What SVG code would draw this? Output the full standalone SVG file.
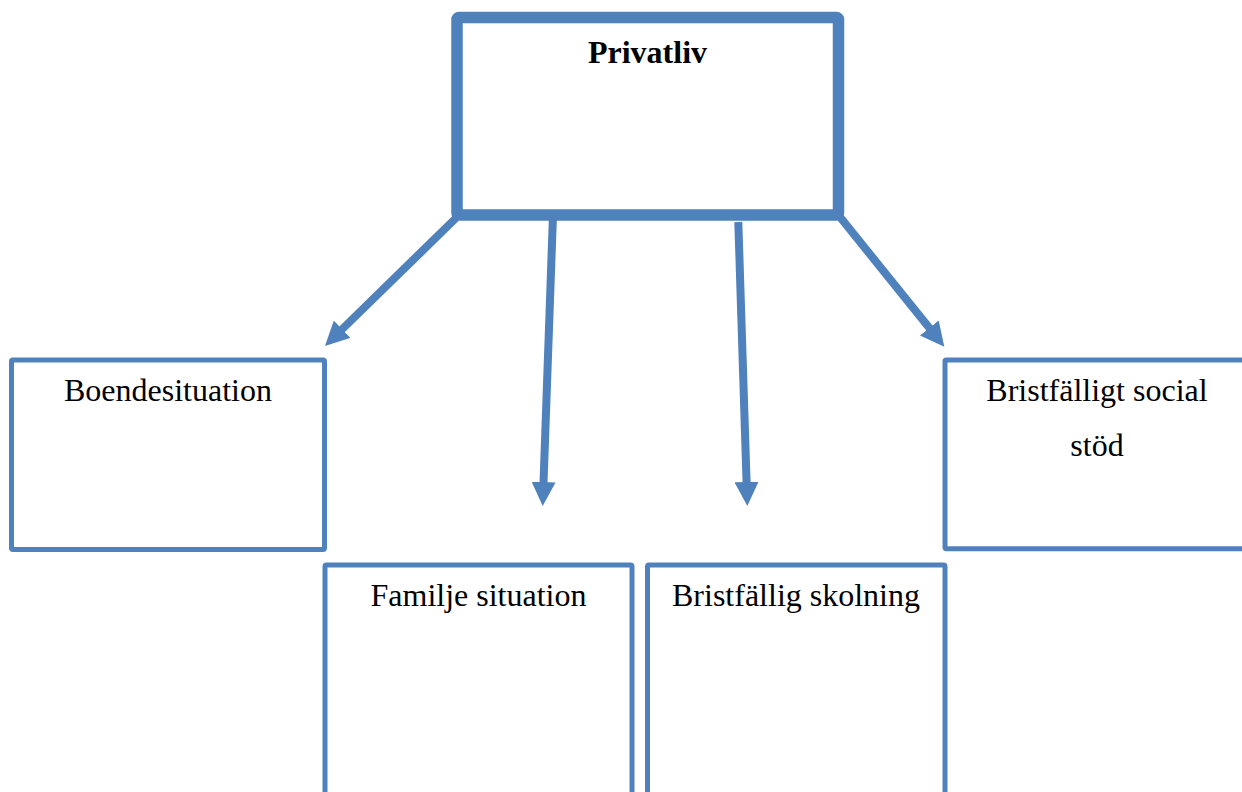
<svg xmlns="http://www.w3.org/2000/svg" width="1242" height="792" viewBox="0 0 1242 792">
  <style>
    .box { fill: #ffffff; stroke: #4F81BD; stroke-width: 5; }
    .main { fill: #ffffff; stroke: #4F81BD; stroke-width: 11.5; }
    .label { font-family: "Liberation Serif", "Times New Roman", serif; font-size: 32px; fill: #000000; text-anchor: middle; }
    .bold { font-weight: bold; }
    .conn { stroke: #4F81BD; stroke-width: 8; fill: none; marker-end: url(#head); }
  </style>
  <defs>
    <marker id="head" markerUnits="userSpaceOnUse" markerWidth="24" markerHeight="24" refX="4" refY="12" orient="auto">
      <path d="M0,0 L24,12 L0,24 Z" fill="#4F81BD"/>
    </marker>
  </defs>
  <rect width="1242" height="792" fill="#ffffff"/>

  <!-- connectors -->
  <g id="connectors">
    <line class="conn" x1="456" y1="218" x2="339.3" y2="332"/>
    <line class="conn" x1="553" y1="215" x2="543.4" y2="486"/>
    <line class="conn" x1="738.3" y1="222" x2="746.7" y2="486"/>
    <line class="conn" x1="840" y1="217" x2="931.8" y2="331.1"/>
  </g>

  <!-- top node -->
  <g id="privatliv">
    <rect class="main" x="457" y="17.5" width="381.5" height="197.5" rx="2"/>
    <text class="label bold" x="647.5" y="63">Privatliv</text>
  </g>

  <g id="boendesituation">
    <rect class="box" x="11.5" y="360" width="313" height="189.5" rx="1.5"/>
    <text class="label" x="168" y="401">Boendesituation</text>
  </g>

  <g id="socialt-stod">
    <rect class="box" x="945" y="360" width="310" height="188.7" rx="1.5"/>
    <text class="label" x="1097" y="401">Bristfälligt social</text>
    <text class="label" x="1097" y="456">stöd</text>
  </g>

  <g id="familjesituation">
    <rect class="box" x="325" y="565" width="307" height="260" rx="1.5"/>
    <text class="label" x="478.5" y="606">Familje situation</text>
  </g>

  <g id="skolning">
    <rect class="box" x="647.5" y="565" width="297.5" height="260" rx="1.5"/>
    <text class="label" x="796" y="606">Bristfällig skolning</text>
  </g>
</svg>
